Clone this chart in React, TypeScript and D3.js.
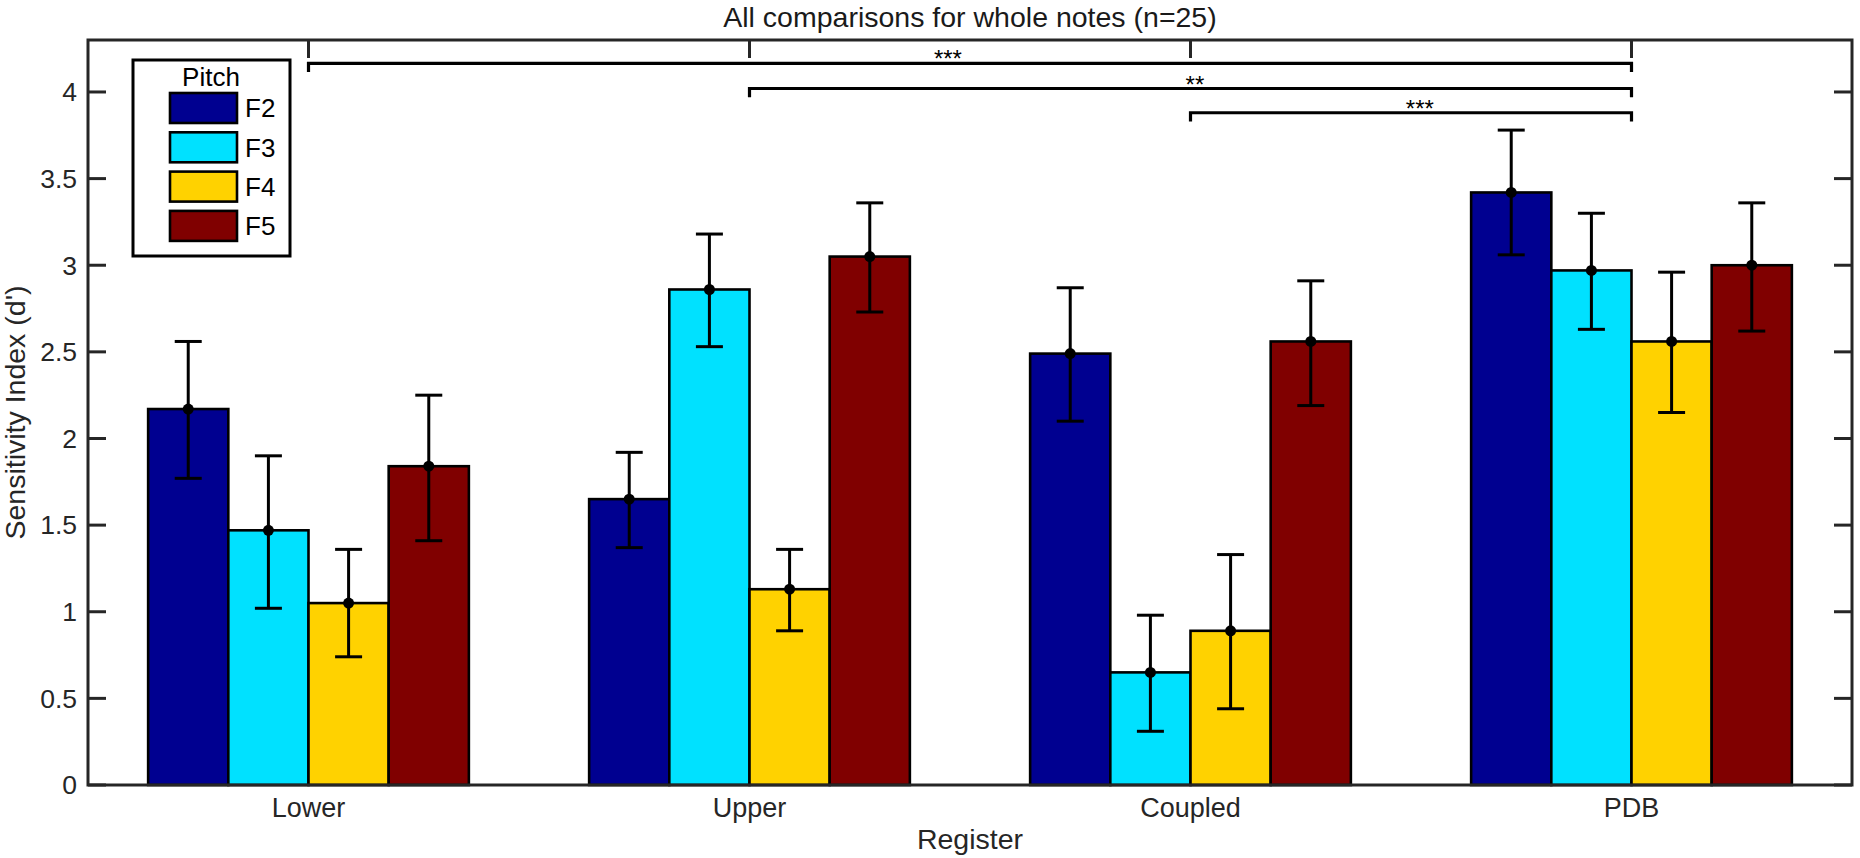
import React, { useEffect } from "react";
import * as d3 from "d3";

const registers = ["Lower", "Upper", "Coupled", "PDB"];
const pitches = ["F2", "F3", "F4", "F5"];
const colors = ["#000090", "#00E1FF", "#FFD200", "#800000"];

// mean d' per pitch, one value per register
const meanF2 = [2.17, 1.65, 2.49, 3.42];
const meanF3 = [1.47, 2.86, 0.65, 2.97];
const meanF4 = [1.05, 1.13, 0.89, 2.56];
const meanF5 = [1.84, 3.05, 2.56, 3.0];

// error bar ends
const lowF2 = [1.77, 1.37, 2.1, 3.06];
const highF2 = [2.56, 1.92, 2.87, 3.78];
const lowF3 = [1.02, 2.53, 0.31, 2.63];
const highF3 = [1.9, 3.18, 0.98, 3.3];
const lowF4 = [0.74, 0.89, 0.44, 2.15];
const highF4 = [1.36, 1.36, 1.33, 2.96];
const lowF5 = [1.41, 2.73, 2.19, 2.62];
const highF5 = [2.25, 3.36, 2.91, 3.36];

const yTicks = [0, 0.5, 1, 1.5, 2, 2.5, 3, 3.5, 4];

// significance brackets (register index 1-based)
const bracketFrom = [1, 2, 3];
const bracketTo = [4, 4, 4];
const bracketY = [4.165, 4.02, 3.88];
const bracketStars = ["***", "**", "***"];
const starX = [2.45, 3.01, 3.52];

const W = 1860;
const H = 858;
const m = { left: 88, right: 1852, top: 40, bottom: 785 };
const font = "'Liberation Sans', Arial, Helvetica, sans-serif";

function App() {
  useEffect(() => {
    document.body.style.margin = "0";
  }, []);

  const means = [meanF2, meanF3, meanF4, meanF5];
  const lows = [lowF2, lowF3, lowF4, lowF5];
  const highs = [highF2, highF3, highF4, highF5];

  const x = d3.scaleLinear().domain([0.5, 4.5]).range([m.left, m.right]);
  const y = d3.scaleLinear().domain([0, 4.3]).range([m.bottom, m.top]);

  // matlab style grouped bars
  const groupW = pitches.length / (pitches.length + 1.5);
  const barW = groupW / pitches.length;
  const barX = (g: number, i: number) => g + 1 - groupW / 2 + barW * (i + 0.5);
  const capHalf = 13.5;
  const tickLen = 18;
  const drop = y(0) - y(0.05);

  return (
    <svg width={W} height={H} style={{ display: "block", background: "#fff" }} fontFamily={font}>
      <text x={(m.left + m.right) / 2} y={27} fontSize={28.5} textAnchor="middle" fill="#1a1a1a">
        All comparisons for whole notes (n=25)
      </text>

      {/* y ticks on both sides */}
      {yTicks.map((t) => (
        <g key={t}>
          <line x1={m.left} x2={m.left + tickLen} y1={y(t)} y2={y(t)} stroke="#262626" strokeWidth={3} />
          <line x1={m.right} x2={m.right - tickLen} y1={y(t)} y2={y(t)} stroke="#262626" strokeWidth={3} />
          <text x={77} y={y(t)} dy="0.35em" fontSize={26.5} textAnchor="end" fill="#262626">
            {t}
          </text>
        </g>
      ))}

      {/* x ticks top */}
      {registers.map((r, g) => (
        <g key={r}>
          <line x1={x(g + 1)} x2={x(g + 1)} y1={m.top} y2={m.top + tickLen} stroke="#262626" strokeWidth={3} />
          <text x={x(g + 1)} y={817} fontSize={27} textAnchor="middle" fill="#262626">
            {r}
          </text>
        </g>
      ))}

      {/* bars */}
      {pitches.map((p, i) =>
        registers.map((r, g) => (
          <rect
            key={p + r}
            x={x(barX(g, i) - barW / 2)}
            width={x(barW) - x(0)}
            y={y(means[i][g])}
            height={y(0) - y(means[i][g])}
            fill={colors[i]}
            stroke="#000"
            strokeWidth={2.6}
          />
        ))
      )}

      {/* error bars */}
      {pitches.map((p, i) =>
        registers.map((r, g) => {
          const cx = x(barX(g, i));
          return (
            <g key={"e" + p + r} stroke="#000" strokeWidth={3}>
              <line x1={cx} x2={cx} y1={y(lows[i][g])} y2={y(highs[i][g])} />
              <line x1={cx - capHalf} x2={cx + capHalf} y1={y(lows[i][g])} y2={y(lows[i][g])} />
              <line x1={cx - capHalf} x2={cx + capHalf} y1={y(highs[i][g])} y2={y(highs[i][g])} />
              <circle cx={cx} cy={y(means[i][g])} r={5.5} fill="#000" stroke="none" />
            </g>
          );
        })
      )}

      {/* significance brackets */}
      {bracketY.map((b, k) => (
        <g key={"b" + k}>
          <path
            d={`M${x(bracketFrom[k])},${y(b) + drop}V${y(b)}H${x(bracketTo[k])}V${y(b) + drop}`}
            fill="none"
            stroke="#000"
            strokeWidth={3.2}
          />
          <text x={x(starX[k])} y={y(b) + 4} fontSize={24} textAnchor="middle" fill="#000">
            {bracketStars[k]}
          </text>
        </g>
      ))}

      {/* axes box */}
      <rect
        x={m.left}
        y={m.top}
        width={m.right - m.left}
        height={m.bottom - m.top}
        fill="none"
        stroke="#262626"
        strokeWidth={3}
      />

      <text x={(m.left + m.right) / 2} y={849} fontSize={28.5} textAnchor="middle" fill="#262626">
        Register
      </text>
      <text
        transform={`translate(25,${(m.top + m.bottom) / 2}) rotate(-90)`}
        fontSize={28.5}
        textAnchor="middle"
        fill="#262626"
      >
        Sensitivity Index (d')
      </text>

      {/* legend */}
      <g>
        <rect x={133} y={60} width={157} height={196} fill="#fff" stroke="#000" strokeWidth={3} />
        <text x={211} y={86} fontSize={26} textAnchor="middle" fill="#000">
          Pitch
        </text>
        {pitches.map((p, i) => (
          <g key={"l" + p} transform={`translate(0,${93 + i * 39.3})`}>
            <rect x={170} y={0} width={67} height={30} fill={colors[i]} stroke="#000" strokeWidth={2.6} />
            <text x={245} y={15} dy="0.36em" fontSize={26} fill="#000">
              {p}
            </text>
          </g>
        ))}
      </g>
    </svg>
  );
}

export default App;
